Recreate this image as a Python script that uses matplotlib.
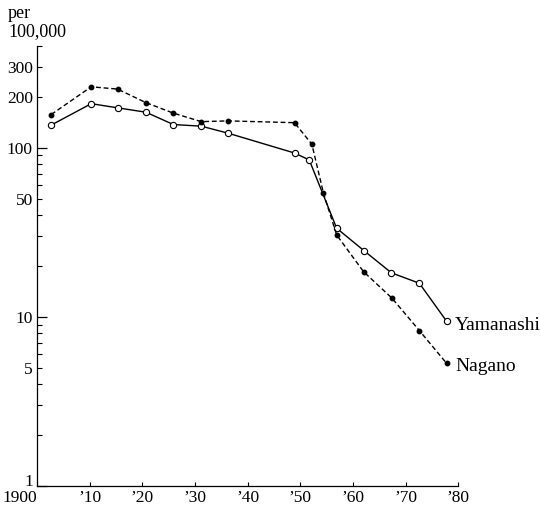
import numpy as np
import matplotlib
matplotlib.use("Agg")
from matplotlib import pyplot as plt
from matplotlib.ticker import FixedLocator, FixedFormatter, FuncFormatter
from matplotlib.transforms import ScaledTranslation

plt.rcParams['font.family'] = ['Liberation Serif', 'DejaVu Serif']

# values (x positions read against the printed axis)
yam_years = [1902.7, 1910.3, 1915.3, 1920.7, 1925.9, 1931.2, 1936.2,
             1948.9, 1951.7, 1956.9, 1962.1, 1967.3, 1972.6, 1977.8]
yam_rate = [136, 182, 172, 162, 137, 134, 122, 93, 84.6, 33.4, 24.6, 18.2, 15.8, 9.4]

nag_years = [1902.7, 1910.3, 1915.3, 1920.7, 1925.9, 1931.2, 1936.3,
             1948.9, 1952.2, 1954.4, 1956.9, 1962.0, 1967.4, 1972.6, 1977.8]
nag_rate = [157, 229, 222, 184.5, 160, 142.5, 144, 140.5, 104.7, 53.8, 30.5,
            18.5, 12.9, 8.3, 5.3]

xticks = [1900, 1910, 1920, 1930, 1940, 1950, 1960, 1970, 1980]
xlabels = ['1900', '\u201910', '\u201920', '\u201930', '\u201940', '\u201950',
           '\u201960', '\u201970', '\u201980']
ymajor = [1, 10, 100]
yminor = [2, 3, 4, 5, 6, 7, 8, 9, 20, 30, 40, 50, 60, 70, 80, 90, 200, 300, 400]
ylabelled = {5: '5', 50: '50', 200: '200', 300: '300'}

fig = plt.figure(figsize=(5.4, 5.08), dpi=100)
ax = fig.add_axes([0.0685, 0.0433, 0.7802, 0.8665])

ax.plot(yam_years, yam_rate, '-', color='black', lw=1.0,
        marker='o', ms=4.5, mfc='white', mec='black', mew=0.8)
ax.plot(nag_years, nag_rate, color='black', lw=1.0, ls=(0, (3.5, 2.0)),
        marker='o', ms=3.2, mfc='black', mec='black')

ax.set_yscale('log')
ax.set_xlim(1900, 1980)
ax.set_ylim(1, 400)

ax.yaxis.set_major_locator(FixedLocator(ymajor))
ax.yaxis.set_major_formatter(FixedFormatter([str(v) for v in ymajor]))
ax.yaxis.set_minor_locator(FixedLocator(yminor))
ax.yaxis.set_minor_formatter(FuncFormatter(lambda v, p: ylabelled.get(int(round(v)), '')))
ax.tick_params(axis='y', which='major', direction='in', length=7, width=0.9,
               labelsize=12.5, pad=3)
ax.tick_params(axis='y', which='minor', direction='in', length=3.5, width=0.8,
               labelsize=12.5, pad=3)

ax.set_xticks(xticks)
ax.set_xticklabels(xlabels)
ax.tick_params(axis='x', direction='in', length=3, width=0.8, labelsize=12.5, pad=3)
ax.get_xticklabels()[0].set_horizontalalignment('right')

# lift the "1" at the corner a little, as in the original
fig.canvas.draw()
lbl = ax.get_yticklabels()[0]
lbl.set_transform(lbl.get_transform() + ScaledTranslation(0, 4 / 72, fig.dpi_scale_trans))

for s in ['top', 'right']:
    ax.spines[s].set_visible(False)
for s in ['left', 'bottom']:
    ax.spines[s].set_linewidth(0.9)

ax.text(1979.4, 8.83, 'Yamanashi', fontsize=14, va='center', ha='left', clip_on=False)
ax.text(1979.4, 5.06, 'Nagano', fontsize=14, va='center', ha='left', clip_on=False)

fig.text(8 / 540, 1 - 14 / 508, 'per', fontsize=13, va='center', ha='left')
fig.text(8 / 540, 1 - 32 / 508, '100,000', fontsize=13, va='center', ha='left')

plt.savefig('out.png', dpi=100)
